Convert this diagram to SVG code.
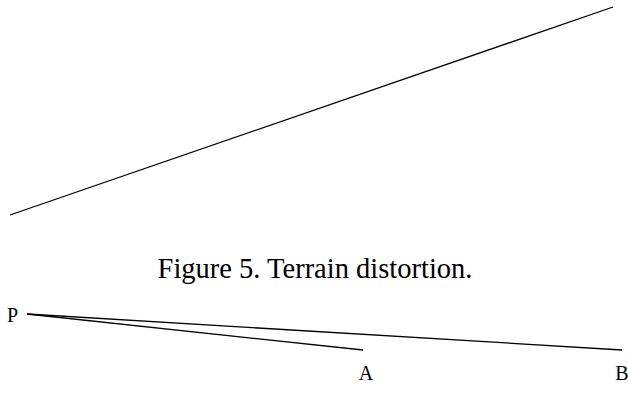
<svg xmlns="http://www.w3.org/2000/svg" width="628" height="409" viewBox="0 0 628 409">
<style>
.ln{stroke:#000;stroke-width:1.3;fill:none}
.t{font-family:"Liberation Serif",serif;fill:#000}
.lb{font-size:20px}
</style>
<rect width="628" height="409" fill="#fff"/>
<g id="connectors">
<line class="ln" x1="10" y1="215" x2="613" y2="7"/>
<line class="ln" x1="27" y1="314" x2="363" y2="350"/>
<line class="ln" x1="27" y1="314" x2="622" y2="350"/>
</g>
<g id="caption"><text class="t" x="315" y="278" font-size="28.5" text-anchor="middle">Figure 5. Terrain distortion.</text></g>
<g id="P"><text class="t lb" x="7" y="322">P</text></g>
<g id="A"><text class="t lb" x="366" y="380" text-anchor="middle">A</text></g>
<g id="B"><text class="t lb" x="622" y="380" text-anchor="middle">B</text></g>
</svg>
